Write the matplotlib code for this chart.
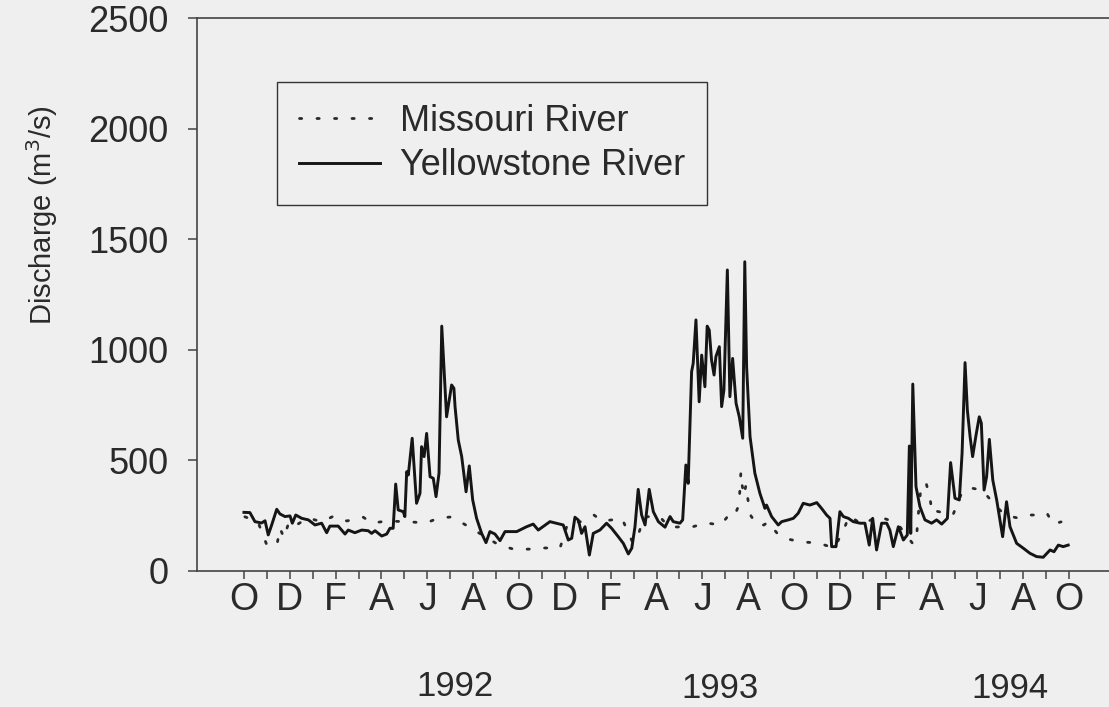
import matplotlib
matplotlib.use("Agg")
import matplotlib.pyplot as plt
import matplotlib.transforms as mtransforms

plt.rcParams['font.family'] = ['Liberation Sans', 'DejaVu Sans']

# months since 1 Oct 1991
yellow_t = [0.0, 0.26, 0.48, 0.77, 0.92, 1.06, 1.21, 1.43, 1.57, 1.79, 2.01, 2.11, 2.26, 2.52,
            2.81, 3.10, 3.39, 3.61, 3.75, 4.11, 4.41, 4.55, 4.84, 5.14, 5.42, 5.57, 5.72, 6.01,
            6.23, 6.37, 6.51, 6.62, 6.73, 6.95, 7.02, 7.10, 7.17, 7.34, 7.53, 7.68, 7.75, 7.86,
            7.97, 8.12, 8.26, 8.38, 8.51, 8.63, 8.84, 9.06, 9.16, 9.21, 9.35, 9.50, 9.69, 9.83,
            9.98, 10.15, 10.37, 10.56, 10.73, 10.95, 11.17, 11.39, 11.90, 12.33, 12.62, 12.84,
            13.35, 13.93, 14.15, 14.30, 14.44, 14.59, 14.73, 14.88, 15.07, 15.24, 15.53, 15.82,
            16.04, 16.33, 16.55, 16.77, 16.92, 17.06, 17.20, 17.35, 17.50, 17.68, 17.86, 18.08,
            18.37, 18.59, 18.73, 19.02, 19.14, 19.28, 19.38, 19.53, 19.60, 19.72, 19.86, 19.97,
            20.11, 20.21, 20.30, 20.40, 20.51, 20.59, 20.74, 20.84, 20.94, 21.09, 21.20, 21.32,
            21.47, 21.61, 21.76, 21.85, 21.93, 22.08, 22.29, 22.51, 22.73, 22.80, 23.02, 23.31,
            23.46, 23.75, 23.97, 24.18, 24.40, 24.69, 24.99, 25.20, 25.42, 25.57, 25.64, 25.83,
            26.00, 26.15, 26.37, 26.58, 26.88, 27.09, 27.28, 27.43, 27.60, 27.82, 28.04, 28.18,
            28.33, 28.55, 28.77, 28.94, 29.03, 29.09, 29.18, 29.32, 29.49, 29.71, 30.00, 30.22,
            30.44, 30.69, 30.83, 31.02, 31.21, 31.33, 31.46, 31.56, 31.68, 31.79, 31.94, 32.08,
            32.17, 32.29, 32.40, 32.52, 32.67, 32.84, 33.10, 33.27, 33.42, 33.71, 34.00, 34.29,
            34.58, 34.87, 35.17, 35.34, 35.53, 35.74, 35.96]
yellow_q = [265, 264, 223, 217, 227, 163, 208, 279, 258, 246, 249, 216, 253, 238,
            231, 208, 216, 173, 203, 203, 167, 185, 173, 185, 182, 170, 182, 158,
            167, 193, 193, 393, 276, 268, 246, 449, 434, 600, 306, 351, 562, 517,
            622, 426, 419, 336, 442, 1107, 697, 841, 826, 743, 592, 517, 358, 475,
            321, 238, 170, 128, 178, 167, 137, 178, 178, 200, 212, 185,
            223, 208, 140, 148, 243, 230, 170, 200, 72, 170, 185, 216,
            193, 155, 125, 77, 103, 200, 369, 253, 208, 369, 268, 223,
            198, 246, 223, 216, 231, 479, 396, 901, 939, 1135, 765, 976,
            833, 1107, 1089, 954, 886, 969, 1014, 743, 818, 1361, 788, 961,
            758, 697, 600, 1398, 923, 607, 442, 351, 283, 298, 246, 208,
            223, 231, 238, 261, 306, 298, 309, 283, 253, 238, 110, 110,
            268, 246, 238, 223, 216, 216, 117, 238, 95, 216, 216, 185,
            110, 200, 140, 163, 565, 170, 845, 381, 291, 231, 216, 231,
            212, 238, 490, 329, 321, 532, 942, 728, 607, 517, 615, 697,
            668, 366, 426, 595, 411, 321, 155, 313, 200, 125, 103, 80,
            65, 62, 95, 87, 117, 110, 117]

missouri_t = [0.04, 0.61, 1.00, 1.44, 1.57, 1.75, 1.92, 2.01, 2.79, 3.40, 3.93, 4.49, 5.19, 5.58,
              6.28, 7.24, 7.94, 8.51, 9.03, 9.38, 9.82, 11.13, 11.82, 12.48, 13.13, 13.79, 14.14,
              14.66, 15.27, 15.62, 16.06, 16.32, 16.58, 16.75, 16.97, 17.23, 17.45, 18.11, 18.54,
              19.55, 20.16, 20.81, 21.12, 21.38, 21.60, 21.68, 21.73, 21.82, 21.90, 21.99, 22.12,
              22.38, 22.69, 22.86, 23.25, 23.69, 24.35, 25.04, 25.74, 26.13, 26.40, 27.01, 27.62,
              28.49, 29.19, 29.36, 29.41, 29.54, 29.76, 29.93, 30.02, 30.19, 30.93, 31.33, 31.72,
              32.20, 32.85, 33.20, 33.73, 34.16, 34.60, 35.03, 35.30, 35.65]
missouri_q = [245, 222, 117, 117, 194, 149, 208, 190, 240, 222, 249, 226, 244, 217,
              226, 222, 217, 240, 244, 226, 199, 117, 97, 99, 104, 104, 220,
              222, 253, 226, 231, 244, 217, 176, 127, 172, 244, 249, 199,
              199, 217, 208, 249, 244, 300, 447, 390, 340, 389, 321, 249,
              208, 208, 222, 172, 145, 131, 127, 104, 176, 249, 208, 249,
              217, 122, 176, 244, 384, 398, 330, 262, 271, 253, 357, 375,
              366, 289, 253, 240, 253, 253, 262, 212, 222]

month_letters = ['O', 'D', 'F', 'A', 'J', 'A'] * 6 + ['O']
years = ['1992', '1993', '1994']
year_pos = [9.2, 20.77, 33.4]
year_y = [687, 689, 688]  # slight vertical offsets seen in the scan

bg = '#efefef'
ink = '#2a2a2a'

fig = plt.figure(figsize=(11.09, 7.07), dpi=100, facecolor=bg)
ax = fig.add_axes([0.1776, 0.1924, 0.8224, 0.7821], facecolor=bg)

ax.plot(missouri_t, missouri_q, color=ink, lw=2.0, linestyle=(0, (0.8, 5.5)),
        dash_capstyle='round', label='Missouri River')
ax.plot(yellow_t, yellow_q, color='#151515', lw=2.1, label='Yellowstone River')

ax.set_xlim(-2.05, 37.74)
ax.set_ylim(0, 2500)
ax.set_yticks([0, 500, 1000, 1500, 2000, 2500])
ax.set_xticks(range(0, 37))
ax.set_xticklabels([month_letters[i // 2] if i % 2 == 0 else '' for i in range(37)])

for s in ['left', 'top', 'bottom']:
    ax.spines[s].set_color('#444444')
    ax.spines[s].set_linewidth(1.2)
ax.spines['right'].set_visible(False)

ax.tick_params(axis='y', direction='out', length=6.5, width=1.1, color='#444444',
               labelsize=26, labelcolor=ink, pad=14)
ax.tick_params(axis='x', direction='out', length=6, width=1.1, color='#444444',
               labelsize=27, labelcolor=ink, pad=2)

ax.set_ylabel('Discharge (m$^3$/s)', fontsize=21, color=ink)
ax.yaxis.set_label_coords(-0.15, 0.644)

trans = mtransforms.blended_transform_factory(ax.transData, fig.transFigure)
for yr, xp, yp in zip(years, year_pos, year_y):
    ax.text(xp, 1 - yp / 707, yr, transform=trans, ha='center', va='center',
            fontsize=25, color=ink)

leg = ax.legend(loc='upper left', bbox_to_anchor=(0.0877, 0.884), borderaxespad=0,
                fontsize=26, handlelength=2.25, handletextpad=0.55, labelspacing=0.26,
                borderpad=0.6, fancybox=False, frameon=True, edgecolor='#333333',
                facecolor=bg, framealpha=1)
leg.get_frame().set_linewidth(1.0)
for t in leg.get_texts():
    t.set_color(ink)

fig.savefig('out.png', dpi=100, facecolor=bg)
